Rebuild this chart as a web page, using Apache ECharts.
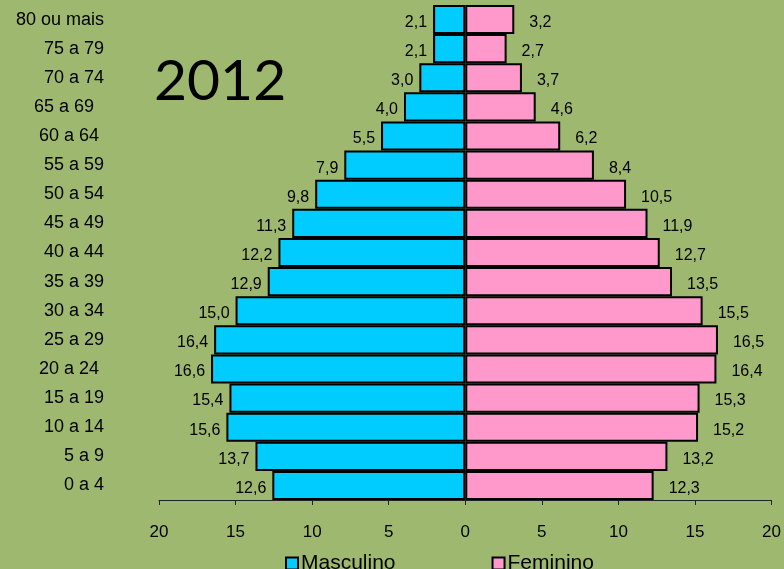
<!DOCTYPE html>
<html>
<head>
<meta charset="utf-8">
<script src="https://cdn.jsdelivr.net/npm/echarts@6/dist/echarts.min.js"></script>
<style>
html,body{margin:0;padding:0;background:#9EB870;}
#chart{width:784px;height:569px;}
</style>
</head>
<body>
<div id="chart"></div>
<script>
const categories = ['0 a 4', '5 a 9', '10 a 14', '15 a 19', '20 a 24 ', '25 a 29', '30 a 34', '35 a 39', '40 a 44', '45 a 49', '50 a 54', '55 a 59', '60 a 64 ', '65 a 69  ', '70 a 74', '75 a 79', '80 ou mais'];
const masculino = [12.6, 13.7, 15.6, 15.4, 16.6, 16.4, 15.0, 12.9, 12.2, 11.3, 9.8, 7.9, 5.5, 4.0, 3.0, 2.1, 2.1];
const feminino = [12.3, 13.2, 15.2, 15.3, 16.4, 16.5, 15.5, 13.5, 12.7, 11.9, 10.5, 8.4, 6.2, 4.6, 3.7, 2.7, 3.2];
const yearTitle = '2012';

const fmt = v => Math.abs(v).toFixed(1).replace('.', ',');
const FONT = 'Liberation Sans, Arial, sans-serif';

const chart = echarts.init(document.getElementById('chart'), null, {renderer: 'canvas'});
chart.setOption({
  backgroundColor: '#9EB870',
  animation: false,
  textStyle: {fontFamily: FONT, color: '#000'},
  grid: {left: 159, right: 11, top: 5, bottom: 69, containLabel: false},
  xAxis: {
    type: 'value', min: -20, max: 20, interval: 5,
    splitLine: {show: false},
    axisLine: {show: true, lineStyle: {color: '#222', width: 1}},
    axisTick: {show: true, length: 5, lineStyle: {color: '#222'}},
    axisLabel: {formatter: v => String(Math.abs(v)), fontSize: 17, color: '#000', margin: 24, fontFamily: FONT}
  },
  yAxis: {
    type: 'category', data: categories,
    axisLine: {show: false}, axisTick: {show: false},
    axisLabel: {fontSize: 18, color: '#000', margin: 55, fontFamily: FONT}
  },
  legend: {
    top: 548, left: 280,
    itemWidth: 12, itemHeight: 12, itemGap: 96, icon: 'rect',
    textStyle: {fontSize: 21, color: '#000', fontFamily: FONT, padding: [0, 0, 0, -2]},
    data: ['Masculino', 'Feminino']
  },
  series: [
    {
      name: 'Masculino', type: 'bar',
      data: masculino.map(v => -v),
      barGap: '-100%', barCategoryGap: '0%',
      itemStyle: {color: '#00CCFF', borderColor: '#000', borderWidth: 2},
      label: {show: true, position: 'left', distance: 6, offset: [0, 3], formatter: p => fmt(p.value), fontSize: 16, color: '#000', fontFamily: FONT}
    },
    {
      name: 'Feminino', type: 'bar',
      data: feminino,
      barGap: '-100%', barCategoryGap: '0%',
      itemStyle: {color: '#FF99CC', borderColor: '#000', borderWidth: 2},
      label: {show: true, position: 'right', distance: 15, offset: [0, 3], formatter: p => fmt(p.value), fontSize: 16, color: '#000', fontFamily: FONT}
    }
  ],
  graphic: [{
    type: 'text', left: 154, top: 53,
    style: {text: yearTitle, font: '57px Lato, Carlito, sans-serif', fill: '#000'}
  }]
});
</script>
</body>
</html>
